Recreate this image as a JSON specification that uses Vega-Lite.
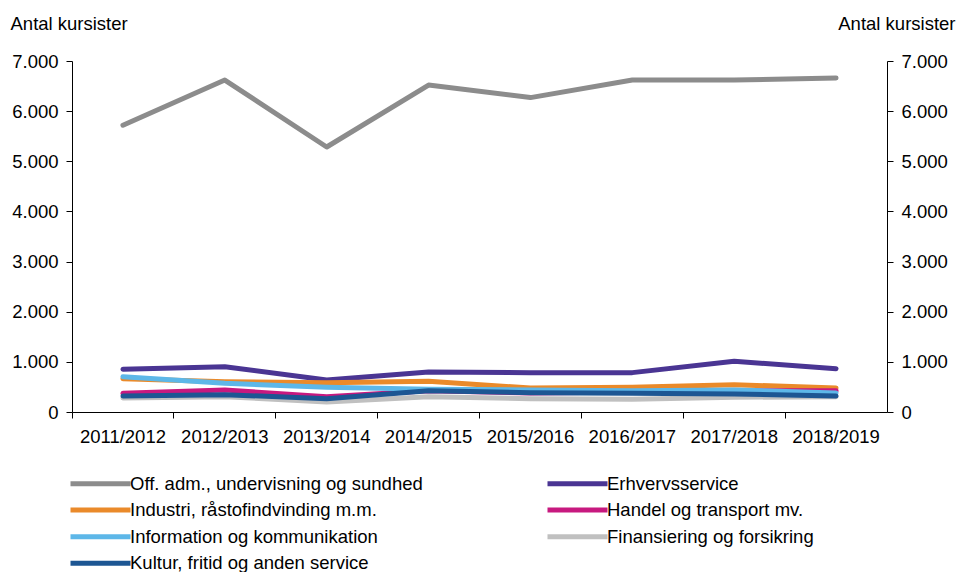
{
  "$schema": "https://vega.github.io/schema/vega-lite/v6.json",
  "width": 815,
  "height": 351,
  "autosize": {"type": "none"},
  "padding": {"left": 72, "top": 61, "right": 71, "bottom": 160},
  "background": "white",
  "config": {
    "view": {"stroke": null},
    "font": "Liberation Sans",
    "axis": {"labelFont": "Liberation Sans", "titleFont": "Liberation Sans", "labelFontSize": 18.5, "titleFontSize": 18.5, "labelColor": "black", "titleColor": "black", "domainColor": "black", "tickColor": "black", "grid": false, "titleFontWeight": "normal"}
  },
  "data": {"values": [
    {"serie": "Off. adm., undervisning og sundhed", "year": "2011/2012", "v": 5720},
    {"serie": "Off. adm., undervisning og sundhed", "year": "2012/2013", "v": 6620},
    {"serie": "Off. adm., undervisning og sundhed", "year": "2013/2014", "v": 5285},
    {"serie": "Off. adm., undervisning og sundhed", "year": "2014/2015", "v": 6520},
    {"serie": "Off. adm., undervisning og sundhed", "year": "2015/2016", "v": 6270},
    {"serie": "Off. adm., undervisning og sundhed", "year": "2016/2017", "v": 6620},
    {"serie": "Off. adm., undervisning og sundhed", "year": "2017/2018", "v": 6620},
    {"serie": "Off. adm., undervisning og sundhed", "year": "2018/2019", "v": 6660},
    {"serie": "Erhvervsservice", "year": "2011/2012", "v": 852},
    {"serie": "Erhvervsservice", "year": "2012/2013", "v": 904},
    {"serie": "Erhvervsservice", "year": "2013/2014", "v": 638},
    {"serie": "Erhvervsservice", "year": "2014/2015", "v": 798},
    {"serie": "Erhvervsservice", "year": "2015/2016", "v": 785},
    {"serie": "Erhvervsservice", "year": "2016/2017", "v": 785},
    {"serie": "Erhvervsservice", "year": "2017/2018", "v": 1011},
    {"serie": "Erhvervsservice", "year": "2018/2019", "v": 864},
    {"serie": "Industri, råstofindvinding m.m.", "year": "2011/2012", "v": 665},
    {"serie": "Industri, råstofindvinding m.m.", "year": "2012/2013", "v": 605},
    {"serie": "Industri, råstofindvinding m.m.", "year": "2013/2014", "v": 585},
    {"serie": "Industri, råstofindvinding m.m.", "year": "2014/2015", "v": 612},
    {"serie": "Industri, råstofindvinding m.m.", "year": "2015/2016", "v": 479},
    {"serie": "Industri, råstofindvinding m.m.", "year": "2016/2017", "v": 492},
    {"serie": "Industri, råstofindvinding m.m.", "year": "2017/2018", "v": 545},
    {"serie": "Industri, råstofindvinding m.m.", "year": "2018/2019", "v": 479},
    {"serie": "Handel og transport mv.", "year": "2011/2012", "v": 372},
    {"serie": "Handel og transport mv.", "year": "2012/2013", "v": 439},
    {"serie": "Handel og transport mv.", "year": "2013/2014", "v": 306},
    {"serie": "Handel og transport mv.", "year": "2014/2015", "v": 425},
    {"serie": "Handel og transport mv.", "year": "2015/2016", "v": 379},
    {"serie": "Handel og transport mv.", "year": "2016/2017", "v": 399},
    {"serie": "Handel og transport mv.", "year": "2017/2018", "v": 425},
    {"serie": "Handel og transport mv.", "year": "2018/2019", "v": 425},
    {"serie": "Information og kommunikation", "year": "2011/2012", "v": 705},
    {"serie": "Information og kommunikation", "year": "2012/2013", "v": 572},
    {"serie": "Information og kommunikation", "year": "2013/2014", "v": 492},
    {"serie": "Information og kommunikation", "year": "2014/2015", "v": 452},
    {"serie": "Information og kommunikation", "year": "2015/2016", "v": 439},
    {"serie": "Information og kommunikation", "year": "2016/2017", "v": 425},
    {"serie": "Information og kommunikation", "year": "2017/2018", "v": 439},
    {"serie": "Information og kommunikation", "year": "2018/2019", "v": 379},
    {"serie": "Finansiering og forsikring", "year": "2011/2012", "v": 279},
    {"serie": "Finansiering og forsikring", "year": "2012/2013", "v": 306},
    {"serie": "Finansiering og forsikring", "year": "2013/2014", "v": 199},
    {"serie": "Finansiering og forsikring", "year": "2014/2015", "v": 306},
    {"serie": "Finansiering og forsikring", "year": "2015/2016", "v": 266},
    {"serie": "Finansiering og forsikring", "year": "2016/2017", "v": 253},
    {"serie": "Finansiering og forsikring", "year": "2017/2018", "v": 293},
    {"serie": "Finansiering og forsikring", "year": "2018/2019", "v": 306},
    {"serie": "Kultur, fritid og anden service", "year": "2011/2012", "v": 319},
    {"serie": "Kultur, fritid og anden service", "year": "2012/2013", "v": 345},
    {"serie": "Kultur, fritid og anden service", "year": "2013/2014", "v": 266},
    {"serie": "Kultur, fritid og anden service", "year": "2014/2015", "v": 425},
    {"serie": "Kultur, fritid og anden service", "year": "2015/2016", "v": 385},
    {"serie": "Kultur, fritid og anden service", "year": "2016/2017", "v": 372},
    {"serie": "Kultur, fritid og anden service", "year": "2017/2018", "v": 359},
    {"serie": "Kultur, fritid og anden service", "year": "2018/2019", "v": 319}
  ]},
  "layer": [
    {
      "mark": {"type": "line", "strokeWidth": 5, "strokeCap": "round", "strokeJoin": "round"},
      "encoding": {
        "x": {"field": "year", "type": "ordinal", "bandPosition": 0.5, "scale": {"type": "band", "paddingInner": 0, "paddingOuter": 0},
          "axis": {"title": null, "labelAngle": 0, "bandPosition": 0, "tickSize": 6, "labelPadding": 9, "domainWidth": 1}},
        "y": {"field": "v", "type": "quantitative", "scale": {"domain": [0, 7000], "nice": false},
          "axis": {"orient": "left", "values": [0, 1000, 2000, 3000, 4000, 5000, 6000, 7000], "labelExpr": "replace(format(datum.value, ','), ',', '.')", "tickSize": 6, "labelPadding": 8,
            "title": "Antal kursister", "titleAngle": 0, "titleAlign": "left", "titleBaseline": "alphabetic", "titleX": -62, "titleY": -32}},
        "color": {"field": "serie", "type": "nominal",
          "sort": ["Off. adm., undervisning og sundhed", "Erhvervsservice", "Industri, råstofindvinding m.m.", "Handel og transport mv.", "Information og kommunikation", "Finansiering og forsikring", "Kultur, fritid og anden service"],
          "scale": {"domain": ["Off. adm., undervisning og sundhed", "Erhvervsservice", "Industri, råstofindvinding m.m.", "Handel og transport mv.", "Information og kommunikation", "Finansiering og forsikring", "Kultur, fritid og anden service"],
            "range": ["#8c8c8c", "#4a3593", "#ea8a2a", "#c7197f", "#5db7e8", "#c0c0c0", "#1d5693"]},
          "legend": {"title": null, "orient": "none", "legendX": 16, "legendY": 410, "columns": 2, "direction": "horizontal", "symbolType": "M-3,0H3", "symbolSize": 400, "symbolStrokeWidth": 5, "labelFontSize": 18.5, "labelFont": "Liberation Sans", "labelColor": "black", "rowPadding": 3.6, "columnPadding": 114, "labelOffset": 17, "labelLimit": 400}},
        "order": {"field": "serie"}
      }
    },
    {
      "mark": {"type": "line", "opacity": 0},
      "encoding": {
        "x": {"field": "year", "type": "ordinal", "bandPosition": 0.5},
        "y": {"field": "v", "type": "quantitative",
          "axis": {"orient": "right", "values": [0, 1000, 2000, 3000, 4000, 5000, 6000, 7000], "labelExpr": "replace(format(datum.value, ','), ',', '.')", "tickSize": 6, "labelPadding": 8,
            "title": "Antal kursister", "titleAngle": 0, "titleAlign": "right", "titleBaseline": "alphabetic", "titleX": 68, "titleY": -32}},
        "detail": {"field": "serie"}
      }
    }
  ],
  "resolve": {"axis": {"y": "independent"}}
}
